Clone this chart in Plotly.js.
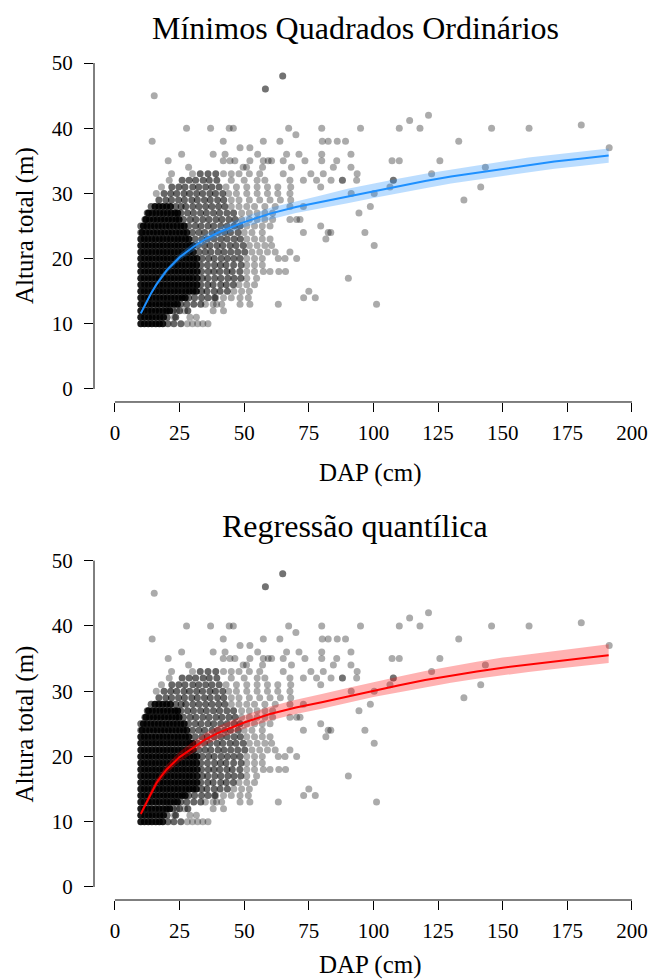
<!DOCTYPE html>
<html>
<head>
<meta charset="utf-8">
<script src="https://cdn.plot.ly/plotly-3.0.1.min.js"></script>
<style>html,body{margin:0;padding:0;background:#fff}#chart{width:649px;height:980px}</style>
</head>
<body>
<div id="chart"></div>
<script>
// ---------- data ----------
// dense core of the cloud (one list of DAP values per height level, m)
const alturasNucleo = [10, 11, 12, 13, 14, 15, 16, 17, 18, 19, 20, 21, 22, 23, 24, 25, 26, 27, 28];
const dapNucleo = [
  [10, 11.4, 12.9, 14.3, 15.8, 17.2, 18.5],
  [10, 11.5, 13, 14.4, 15.9, 17.4, 18.8],
  [10, 11.3, 12.8, 14.2, 15.7, 17.1, 18.6, 20, 21.2],
  [10, 11.4, 12.9, 14.3, 15.8, 17.2, 18.7, 20.1, 21.5, 23, 24.2],
  [10, 11.5, 13, 14.4, 15.9, 17.3, 18.8, 20.2, 21.7, 23.1, 24.6, 26, 27.2],
  [10, 11.4, 12.8, 14.3, 15.7, 17.2, 18.6, 20.1, 21.5, 23, 24.4, 25.9, 27.4, 28.8, 30.2, 31.5],
  [10, 11.5, 12.9, 14.4, 15.8, 17.3, 18.7, 20.2, 21.6, 23.1, 24.5, 26, 27.4, 28.8, 30.3, 31.7],
  [10, 11.4, 12.9, 14.3, 15.8, 17.2, 18.7, 20.1, 21.6, 23, 24.5, 25.9, 27.4, 28.8, 30.2, 31.8],
  [10, 11.5, 12.9, 14.4, 15.8, 17.3, 18.7, 20.2, 21.6, 23.1, 24.5, 26, 27.4, 28.9, 30.3, 31.8],
  [10, 11.4, 12.8, 14.3, 15.7, 17.2, 18.6, 20.1, 21.5, 23, 24.4, 25.9, 27.3, 28.8, 30.2, 31.6],
  [10, 11.5, 13, 14.4, 15.9, 17.3, 18.8, 20.2, 21.7, 23.1, 24.6, 26, 27.5, 28.9, 30.4, 31.7],
  [10, 11.4, 12.9, 14.3, 15.8, 17.2, 18.7, 20.1, 21.6, 23, 24.5, 25.9, 27.4, 28.8, 30.3],
  [10, 11.5, 12.9, 14.4, 15.8, 17.3, 18.7, 20.2, 21.6, 23.1, 24.5, 26, 27.5, 28.9, 30.1],
  [10, 11.4, 12.8, 14.3, 15.7, 17.2, 18.6, 20.1, 21.5, 23, 24.4, 25.8, 27.3, 28.6],
  [10.5, 12, 13.4, 14.9, 16.3, 17.8, 19.2, 20.7, 22.1, 23.6, 25, 26.5, 27.8],
  [11, 12.4, 13.9, 15.3, 16.8, 18.2, 19.7, 21.1, 22.6, 24, 25.5, 26.8],
  [12, 13.4, 14.9, 16.3, 17.8, 19.2, 20.7, 22.1, 23.6, 24.8],
  [13, 14.5, 15.9, 17.4, 18.8, 20.3, 21.7, 23.2, 24.3],
  [15.5, 17, 18.5, 20, 21.5]
];
// medium-density fringe of the cloud
const alturasMedio = [10, 11, 12, 13, 14, 15, 16, 17, 18, 19, 20, 21, 22, 23, 24, 25, 26, 27, 28, 29, 30, 31, 32, 33];
const dapMedio = [
  [20.5, 22.8, 25.5],
  [20.2, 23.5],
  [22.5, 25, 28.2],
  [25.5, 27.8, 30.5, 33.2],
  [28.5, 30.8, 33.5, 36, 38.6],
  [33.5, 35.6, 38.4, 40.7, 43.5],
  [33.2, 35.9, 38, 40.9, 43.1, 45.8],
  [33.8, 35.9, 38.6, 41, 43.7, 46.1, 48.7],
  [33.5, 36.1, 38.3, 40.6, 43.3, 45.4, 48.3],
  [33.2, 35.8, 38.5, 40.8, 43, 45.9, 48.8],
  [33.7, 36.2, 38.4, 41.1, 43.5, 46, 48.4],
  [32.5, 34.9, 37.1, 39.9, 42.2, 44.8, 47.5, 50.2],
  [32, 34.6, 36.8, 39.5, 41.7, 44.5, 46.8, 49.6],
  [31, 33.6, 35.8, 38.4, 41, 43.4, 46.1, 48.5],
  [10, 30, 32.5, 34.7, 37.5, 39.8, 42.4, 44.7, 47.6],
  [10, 28.5, 31.1, 33.3, 36, 38.2, 40.9, 43.4, 46.1, 48.4],
  [11.6, 26.5, 29.1, 31.3, 34, 36.4, 39.1, 41.4, 44.1, 46.5],
  [12.5, 25.5, 28.1, 30.4, 33.1, 35.4, 38.1, 40.5, 43.3, 45.9],
  [14, 23.5, 25.6, 27.4, 30.1, 32.5, 35.1, 37.5, 40.1, 42.5],
  [17, 19.7, 21.9, 24.6, 26.9, 29.7, 31.9, 34.6, 36.9, 39.7, 42.1],
  [19, 21.6, 23.9, 26.7, 28.9, 31.6, 33.9, 36.7, 38.9, 41.7],
  [22, 24.7, 27.1, 30.1, 32.4, 35.1, 37.5, 40.3],
  [26, 28.7, 31.2, 34.1, 36.5, 39.4],
  [33, 36, 39]
];
// sparse points and outliers
const alturasEsparso = [10, 11, 12, 13, 14, 15, 16, 17, 18, 19, 20, 21, 22, 23, 24, 25, 26, 27, 28, 29, 30, 31, 32, 33, 34, 35, 36, 37, 38, 39, 40, 40.5, 41.2, 42, 45, 46, 48];
const dapEsparso = [
  [28, 30, 32, 34, 36],
  [23, 29, 31.5],
  [24, 27, 38, 42],
  [35, 38, 39.3, 41.3, 48.4, 52.2, 63.2, 101.2],
  [39, 42, 45, 48.4, 51.6, 73, 77.5],
  [46, 49, 52, 75],
  [48, 51, 54],
  [51, 54.8, 90.3],
  [51, 54, 57.4, 60, 63.4, 66],
  [51, 54, 57],
  [51, 54, 57, 63.2, 65.8, 70.3],
  [53, 56, 59, 62, 67.7],
  [52, 55, 58, 60.6, 100.3],
  [51, 54, 57, 60, 81.6],
  [50, 53, 57, 72.9, 82.5, 83.5, 96.7],
  [51, 54, 57, 60, 79.6],
  [49, 52, 55, 58, 61, 67.7, 70.3, 71.6],
  [49, 52, 55, 58, 61, 94.4],
  [45, 48, 51, 54, 58, 62, 67.7, 72.9, 98.8],
  [45, 48, 52, 56, 60, 64, 68, 135],
  [16, 44, 47, 51, 55, 59, 63, 67.7, 91.4, 100.3],
  [18, 43, 47, 51, 55, 59, 63, 68, 79.6, 106.4, 141.5],
  [21, 45, 50, 55, 58, 67.7, 72.9, 78, 83.6, 88, 88, 93.5, 107.7, 107.7],
  [21.9, 30, 42, 45, 48, 52, 56, 65.1, 75.8, 80.6, 93.7, 122.5],
  [28.5, 49.6, 50.9, 57.1, 68.3, 84.5, 91.3, 143.3],
  [20.6, 41.9, 44.5, 46.4, 52.2, 57.4, 59.3, 60.6, 65.1, 73.5, 80, 85.8, 107.2, 110, 125.7],
  [25.8, 38, 42.6, 55.2, 66.4, 71.2, 80, 91.3],
  [48.4, 52.2, 191.2],
  [14.4, 41.9, 57.4, 63.8, 80.2, 82.5, 86, 89.2, 133],
  [70],
  [27.7, 37, 44.2, 45.8, 67.2, 80, 95, 110, 118, 145.7, 160.2],
  [180.4],
  [114],
  [121.3],
  [15.2],
  [58.2, 58.2],
  [64.9, 64.9]
];
// fitted curves and their bands
const dapCurva = [10, 12, 14, 16, 18, 20, 25, 30, 35, 40, 50, 60, 70, 80, 90, 100, 110, 120, 130, 140, 150, 160, 170, 180, 191];
const mqoAjuste = [11.6, 13.2, 14.7, 16.0, 17.2, 18.2, 20.2, 21.7, 23.0, 24.0, 25.6, 26.9, 27.9, 28.7, 29.6, 30.4, 31.2, 31.9, 32.6, 33.2, 33.8, 34.4, 34.9, 35.3, 35.8];
const mqoInferior = [11.3, 12.9, 14.4, 15.7, 16.8, 17.8, 19.7, 21.1, 22.3, 23.3, 24.8, 26.0, 27.0, 27.7, 28.5, 29.3, 30.1, 30.8, 31.5, 32.1, 32.7, 33.3, 33.8, 34.2, 34.7];
const mqoSuperior = [11.9, 13.5, 15.0, 16.3, 17.6, 18.6, 20.7, 22.3, 23.7, 24.7, 26.4, 27.8, 28.8, 29.7, 30.7, 31.5, 32.3, 33.0, 33.7, 34.3, 34.9, 35.5, 36.0, 36.4, 36.9];
const rqAjuste = [11.2, 12.8, 14.4, 15.9, 17.0, 18.0, 19.9, 21.3, 22.6, 23.6, 25.2, 26.5, 27.5, 28.3, 29.2, 30.1, 30.9, 31.7, 32.4, 33.0, 33.6, 34.1, 34.6, 35.0, 35.5];
const rqInferior = [10.8, 12.35, 13.9, 15.35, 16.4, 17.4, 19.2, 20.5, 21.75, 22.7, 24.25, 25.5, 26.5, 27.3, 28.2, 29.1, 29.85, 30.6, 31.3, 31.9, 32.45, 32.95, 33.4, 33.8, 34.3];
const rqSuperior = [11.6, 13.3, 14.95, 16.5, 17.65, 18.7, 20.7, 22.2, 23.6, 24.65, 26.3, 27.65, 28.7, 29.55, 30.5, 31.4, 32.25, 33.1, 33.85, 34.5, 35.15, 35.7, 36.2, 36.65, 37.2];
const xTicks = [0, 25, 50, 75, 100, 125, 150, 175, 200];
const yTicks = [0, 10, 20, 30, 40, 50];
const titulos = ['Mínimos Quadrados Ordinários', 'Regressão quantílica'];
const tituloX = 'DAP (cm)';
const tituloY = 'Altura total (m)';

// ---------- build ----------
function flatten(alturas, daps) {
  const x = [], y = [];
  alturas.forEach((h, i) => daps[i].forEach(d => { x.push(d); y.push(h); }));
  return {x, y};
}
const nucleo = flatten(alturasNucleo, dapNucleo);
const medio = flatten(alturasMedio, dapMedio);
const esparso = flatten(alturasEsparso, dapEsparso);

const FONT = 'Liberation Serif, Times New Roman, serif';
const traces = [];
function panel(xa, ya, ajuste, inf, sup, lineColor, bandColor) {
  [[esparso, 0.33], [medio, 0.6], [nucleo, 0.9]].forEach(([d, op]) => {
    traces.push({type: 'scatter', mode: 'markers', x: d.x, y: d.y, xaxis: xa, yaxis: ya,
      marker: {color: '#000', size: 7, opacity: op, line: {width: 0}}, hoverinfo: 'skip', showlegend: false});
  });
  traces.push({type: 'scatter', mode: 'lines', x: dapCurva.concat(dapCurva.slice().reverse()),
    y: inf.concat(sup.slice().reverse()), fill: 'toself', fillcolor: bandColor,
    line: {width: 0}, xaxis: xa, yaxis: ya, hoverinfo: 'skip', showlegend: false});
  traces.push({type: 'scatter', mode: 'lines', x: dapCurva, y: ajuste, xaxis: xa, yaxis: ya,
    line: {color: lineColor, width: 2}, hoverinfo: 'skip', showlegend: false});
}
panel('x', 'y', mqoAjuste, mqoInferior, mqoSuperior, '#1E90FF', 'rgba(30,144,255,0.3)');
panel('x2', 'y2', rqAjuste, rqInferior, rqSuperior, '#FF0000', 'rgba(255,0,0,0.3)');

const axX = (anchor) => ({domain: [0, 1], range: [-8.1, 206.6], anchor: anchor, showgrid: false, zeroline: false, showline: false,
  tickmode: 'array', tickvals: xTicks, ticktext: xTicks.map(String), ticks: 'outside', ticklen: 9, tickwidth: 1,
  tickcolor: '#000', ticklabelstandoff: 3, tickfont: {family: FONT, size: 21, color: '#000'}});
const axY = (dom, anchor) => ({domain: dom, range: [-2, 52], anchor: anchor, showgrid: false, zeroline: false, showline: false,
  tickmode: 'array', tickvals: yTicks, ticktext: yTicks.map(String), ticks: 'outside', ticklen: 9, tickwidth: 1,
  tickcolor: '#000', ticklabelstandoff: 7, tickfont: {family: FONT, size: 21, color: '#000'}});

const shapes = [];
[['x', 'y'], ['x2', 'y2']].forEach(([xa, ya]) => {
  shapes.push({type: 'line', xref: xa, yref: ya + ' domain', x0: xTicks[0], x1: xTicks[xTicks.length - 1], y0: 0, y1: 0, line: {color: '#000', width: 1}});
  shapes.push({type: 'line', xref: xa + ' domain', yref: ya, x0: 0, x1: 0, y0: yTicks[0], y1: yTicks[yTicks.length - 1], line: {color: '#000', width: 1}});
});

const ann = (text, x, y, size, rot) => ({text, x, y, xref: 'paper', yref: 'paper', xanchor: 'center', yanchor: 'middle',
  showarrow: false, textangle: rot || 0, font: {family: FONT, size, color: '#000'}});
const annotations = [
  ann(titulos[0], 0.4703, 1.0259, 32),
  ann(titulos[1], 0.4703, 0.4400, 32),
  ann(tituloX, 0.4973, 0.5024, 25),
  ann(tituloX, 0.4973, -0.0765, 25),
  ann(tituloY, -0.1243, 0.7929, 25, -90),
  ann(tituloY, -0.1243, 0.2065, 25, -90)
];

const layout = {
  width: 649, height: 980, margin: {l: 94, r: 0, t: 50, b: 80},
  paper_bgcolor: '#fff', plot_bgcolor: '#fff', showlegend: false,
  xaxis: axX('y'), yaxis: axY([0.5859, 1], 'x'),
  xaxis2: axX('y2'), yaxis2: axY([0, 0.4146], 'x2'),
  shapes, annotations, font: {family: FONT, color: '#000'}
};
Plotly.newPlot('chart', traces, layout, {displayModeBar: false, staticPlot: true});
</script>
</body>
</html>
